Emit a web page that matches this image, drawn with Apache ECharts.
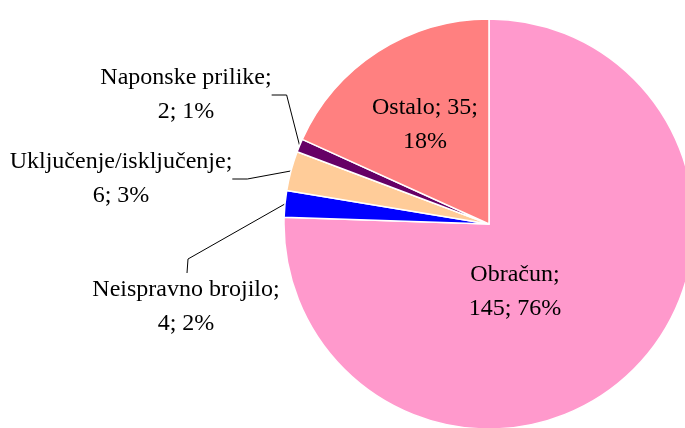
<!DOCTYPE html>
<html lang="hr">
<head>
    <meta charset="UTF-8">
    <title>Prigovori po vrsti</title>
    <script src="https://cdn.jsdelivr.net/npm/echarts@6/dist/echarts.min.js"></script>
    <style>
        body { margin: 0; padding: 0; background: #fff; }
        #chart { width: 685px; height: 428px; }
    </style>
</head>
<body>
<div id="chart"></div>
<script>
    // Data
    const categories = ['Obračun', 'Neispravno brojilo', 'Uključenje/isključenje', 'Naponske prilike', 'Ostalo'];
    const counts = [145, 4, 6, 2, 35];
    const percents = [76, 2, 3, 1, 18];
    const labelTexts = [
        'Obračun;\n145; 76%',
        'Neispravno brojilo;\n4; 2%',
        'Uključenje/isključenje;\n6; 3%',
        'Naponske prilike;\n2; 1%',
        'Ostalo; 35;\n18%'
    ];

    const colors = ['#FF99CC', '#0000FF', '#FFCC99', '#660066', '#FF8080'];
    // label centres (px) and whether they sit outside the pie
    const labelCentres = [[515, 292], [186, 307], [121, 179], [186, 95], [425, 125]];
    const outside = [false, true, true, true, false];

    const chart = echarts.init(document.getElementById('chart'));

    const seriesData = categories.map((name, i) => ({
        name: name,
        value: counts[i],
        itemStyle: { color: colors[i] },
        label: {
            position: outside[i] ? 'outside' : 'inside',
            formatter: labelTexts[i]
        },
        labelLine: { show: outside[i] }
    }));

    chart.setOption({
        animation: false,
        series: [{
            type: 'pie',
            center: [489, 224],
            radius: 205,
            startAngle: 90,
            clockwise: true,
            avoidLabelOverlap: false,
            itemStyle: { borderColor: '#ffffff', borderWidth: 1.5 },
            label: {
                color: '#000',
                fontFamily: '"Liberation Serif", "Times New Roman", serif',
                fontSize: 24,
                lineHeight: 34,
                align: 'center'
            },
            labelLine: {
                length: 15,
                length2: 15,
                lineStyle: { color: '#000', width: 1 }
            },
            labelLayout: function (params) {
                const i = params.dataIndex;
                const c = labelCentres[i];
                const out = { x: c[0], y: c[1], align: 'center', verticalAlign: 'middle' };
                // the label below the pie is joined at its top edge, like the original
                if (i === 1 && params.labelLinePoints) {
                    const anchor = params.labelLinePoints[0];
                    const top = c[1] - params.labelRect.height / 2;
                    out.labelLinePoints = [anchor, [c[0] + 2, top - 14], [c[0] + 1, top]];
                }
                return out;
            },
            data: seriesData
        }]
    });
</script>
</body>
</html>
